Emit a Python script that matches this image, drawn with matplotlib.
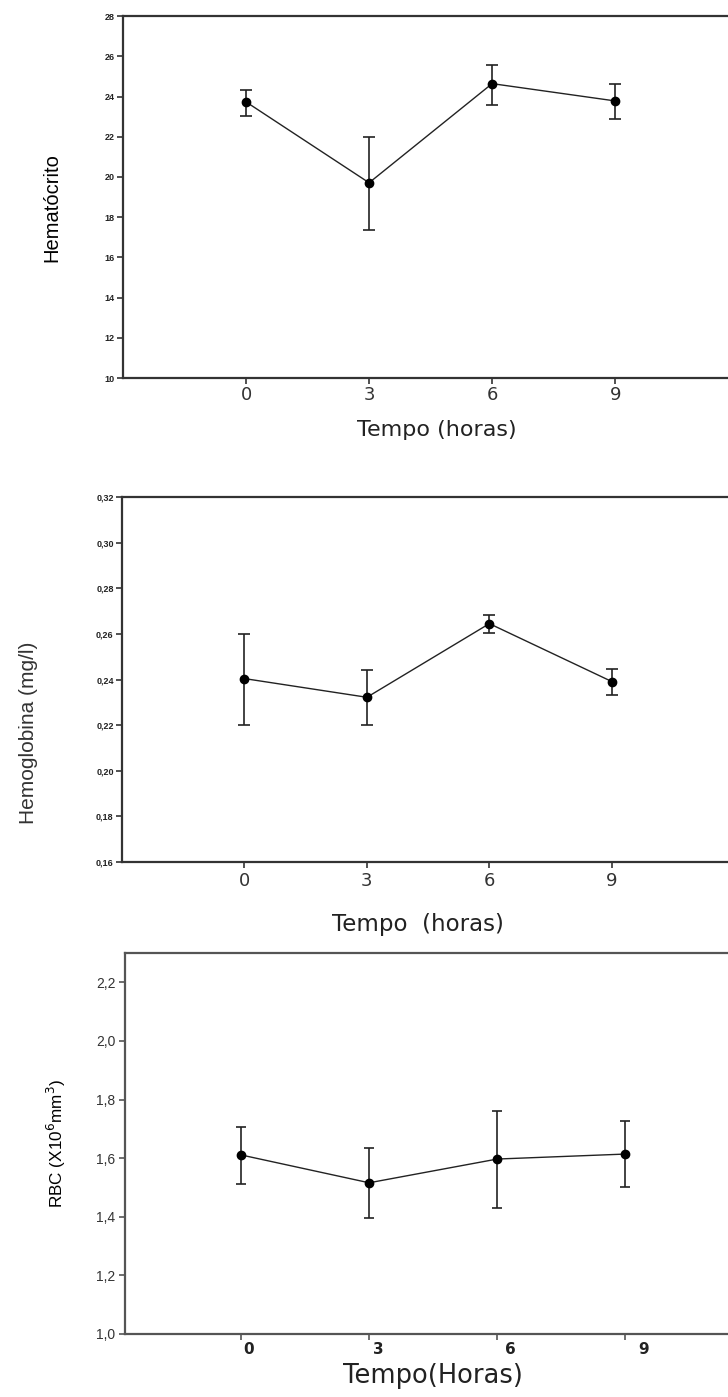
import matplotlib
matplotlib.use('Agg')
import matplotlib.pyplot as plt
from matplotlib.ticker import FuncFormatter
from matplotlib.transforms import ScaledTranslation

plt.rcParams['font.family'] = ['Liberation Sans', 'DejaVu Sans']

tempo = [0, 3, 6, 9]
tick_labels = ['0', '3', '6', '9']

# Hematocrito
hct_mean = [23.73, 19.71, 24.64, 23.78]
hct_low = [23.02, 17.35, 23.60, 22.88]
hct_high = [24.34, 22.00, 25.58, 24.64]

# Hemoglobina
hb_mean = [0.2404, 0.2322, 0.2645, 0.2391]
hb_low = [0.2202, 0.2202, 0.2604, 0.2334]
hb_high = [0.2601, 0.2443, 0.2683, 0.2448]

# RBC
rbc_mean = [1.611, 1.516, 1.597, 1.614]
rbc_low = [1.512, 1.397, 1.429, 1.502]
rbc_high = [1.707, 1.634, 1.760, 1.727]


def comma(dec):
    return FuncFormatter(lambda v, p: f'{v:.{dec}f}'.replace('.', ','))


def draw(ax, mean, low, high, capsize, spine_col):
    yerr = [[m - l for m, l in zip(mean, low)], [h - m for m, h in zip(mean, high)]]
    ax.errorbar(tempo, mean, yerr=yerr, fmt='o-', color='#222222', mfc='black', mec='black',
                ms=6, lw=1.0, elinewidth=1.2, capsize=capsize, capthick=1.2, ecolor='#222222')
    for s in ax.spines.values():
        s.set_color(spine_col)
        s.set_linewidth(1.6)
    ax.set_xticks(tempo)
    ax.set_xticklabels(tick_labels)
    ax.tick_params(direction='out', length=4, width=1.2, color=spine_col)


fig = plt.figure(figsize=(7.28, 13.97), dpi=100)

# panel 1
ax1 = fig.add_axes([0.169, 0.7294, 0.845, 0.2591])
draw(ax1, hct_mean, hct_low, hct_high, 4, '#333333')
ax1.set_xlim(-3, 12)
ax1.set_ylim(10, 28)
ax1.set_yticks(range(10, 29, 2))
ax1.tick_params(axis='y', labelsize=6.5, pad=2, labelcolor='#222222')
ax1.tick_params(axis='x', labelsize=13, pad=1.5, labelcolor='#333333')
for t in ax1.get_yticklabels():
    t.set_fontweight('bold')
for t in ax1.get_xticklabels():
    t.set_family('DejaVu Sans')
ax1.set_xlabel('Tempo (horas)', fontsize=16, family='DejaVu Sans', color='#222222')
ax1.xaxis.set_label_coords(0.51, -0.115)
ax1.set_ylabel('Hematócrito', fontsize=14.5)
ax1.yaxis.set_label_coords(-0.10, 0.47)

# panel 2
ax2 = fig.add_axes([0.1676, 0.3830, 0.841, 0.2612])
draw(ax2, hb_mean, hb_low, hb_high, 4, '#333333')
ax2.set_xlim(-3, 12)
ax2.set_ylim(0.16, 0.32)
ax2.set_yticks([0.16, 0.18, 0.20, 0.22, 0.24, 0.26, 0.28, 0.30, 0.32])
ax2.yaxis.set_major_formatter(comma(2))
ax2.tick_params(axis='y', labelsize=6.5, pad=2, labelcolor='#222222')
ax2.tick_params(axis='x', labelsize=13, pad=3.5, labelcolor='#333333')
for t in ax2.get_yticklabels():
    t.set_fontweight('bold')
for t in ax2.get_xticklabels():
    t.set_family('DejaVu Sans')
ax2.set_xlabel('Tempo  (horas)', fontsize=16.5, family='DejaVu Sans', color='#222222')
ax2.xaxis.set_label_coords(0.483, -0.14)
ax2.set_ylabel('Hemoglobina (mg/l)', fontsize=15, color='#333333',
               family=['Liberation Sans Narrow', 'Liberation Sans'])
ax2.yaxis.set_label_coords(-0.137, 0.353)

# panel 3
ax3 = fig.add_axes([0.1717, 0.0451, 0.863, 0.2727])
draw(ax3, rbc_mean, rbc_low, rbc_high, 3.5, '#555555')
ax3.set_xlim(-2.72, 12)
ax3.set_ylim(1.0, 2.3)
ax3.set_yticks([1.0, 1.2, 1.4, 1.6, 1.8, 2.0, 2.2])
ax3.yaxis.set_major_formatter(comma(1))
ax3.tick_params(axis='y', labelsize=10, pad=3, labelcolor='#333333')
ax3.tick_params(axis='x', labelsize=11, pad=1.5, labelcolor='#222222')
shifts = [7, 9, 13, 18]
for t, dx in zip(ax3.get_xticklabels(), shifts):
    t.set_fontweight('bold')
    t.set_family('DejaVu Sans')
    t.set_transform(t.get_transform() + ScaledTranslation(dx / 100, 0, fig.dpi_scale_trans))
ax3.set_xlabel('Tempo(Horas)', fontsize=18.5, family='DejaVu Sans', color='#222222')
ax3.xaxis.set_label_coords(0.49, -0.075)
ax3.set_ylabel('RBC (X10$^6$mm$^3$)', fontsize=12.3)
ax3.yaxis.set_label_coords(-0.091, 0.5)

fig.savefig('out.png', dpi=100)
